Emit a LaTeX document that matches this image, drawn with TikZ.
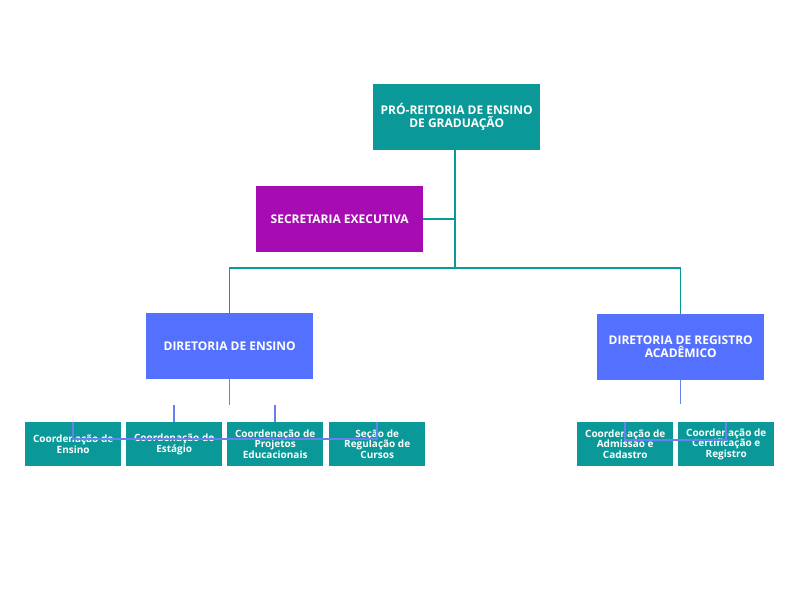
\documentclass[tikz,border=0pt]{standalone}
\usepackage{fontspec}
\setmainfont{Open Sans}
\definecolor{teal1}{HTML}{0A9898}
\definecolor{purp}{HTML}{A60CB2}
\definecolor{blu}{HTML}{5470FF}
\definecolor{bline}{HTML}{6680F0}
\begin{document}
\begin{tikzpicture}[x=1pt,y=-1pt,
  box/.style={draw=none,text=white,font=\bfseries\fontsize{12}{13}\selectfont,align=center,inner sep=0pt,anchor=north west},
  big/.style={box,minimum width=167pt,minimum height=66pt},
  small/.style={box,minimum width=96pt,minimum height=44pt,fill=teal1,font=\bfseries\fontsize{10}{10.5}\selectfont},
  tl/.style={draw=teal1,line width=1.5pt},
  bl/.style={draw=bline,line width=1.5pt}]
\useasboundingbox (0,0) rectangle (800,600);
\node[big,fill=teal1] (top) at (373,84) {PRÓ-REITORIA DE ENSINO\\DE GRADUAÇÃO};
\node[big,fill=purp] (sec) at (256,186) {SECRETARIA EXECUTIVA};
\node[big,fill=blu] (de) at (146,313) {DIRETORIA DE ENSINO};
\node[big,fill=blu] (dr) at (597,314) {DIRETORIA DE REGISTRO\\ACADÊMICO};
\node[small] (c1) at (25,422) {Coordenação de\\Ensino};
\node[small] (c2) at (126,422) {Coordenação de\\Estágio};
\node[small] (c3) at (227,422) {Coordenação de\\Projetos\\Educacionais};
\node[small] (c4) at (329,422) {Seção de\\Regulação de\\Cursos};
\node[small] (c5) at (577,422) {Coordenação de\\Admissão e\\Cadastro};
\node[small] (c6) at (678,422) {Coordenação de\\Certificação e\\Registro};
\coordinate (j) at (455,268);
\draw[tl] (top.south -| j) -- (j);
\draw[tl] (sec.east) -- (sec.east -| j);
\draw[tl] (de.north) |- (j) -| (dr.north);
\draw[bl] (de.south) -- ++(0,26);
\draw[bl] (c1.north) |- ([yshift=-17pt]c4.north) -- (c4.north);
\draw[bl] (c2.north) -- ++(0,-17);
\draw[bl] (c3.north) -- ++(0,-17);
\draw[bl] (dr.south) -- ++(0,24);
\draw[bl] (c5.north) |- ([yshift=-18pt]c6.north) -- (c6.north);
\end{tikzpicture}
\end{document}
